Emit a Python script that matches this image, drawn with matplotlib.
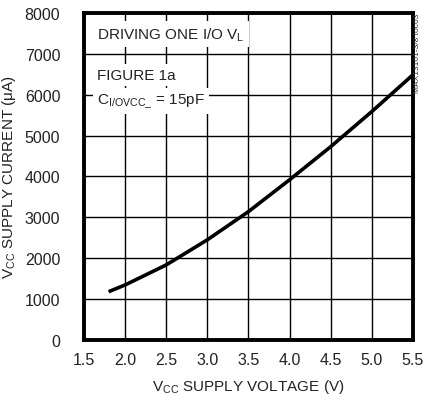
import matplotlib
matplotlib.use("Agg")
import matplotlib.pyplot as plt

# supply current vs supply voltage
vcc = [1.8, 2.0, 2.5, 3.0, 3.5, 4.0, 4.5, 5.0, 5.5]
icc = [1180, 1345, 1835, 2450, 3140, 3920, 4730, 5590, 6490]

x_ticks = [1.5, 2.0, 2.5, 3.0, 3.5, 4.0, 4.5, 5.0, 5.5]
y_ticks = [0, 1000, 2000, 3000, 4000, 5000, 6000, 7000, 8000]

fam = "Liberation Sans"
plt.rcParams["font.family"] = [fam, "DejaVu Sans"]
plt.rcParams["mathtext.fontset"] = "custom"
plt.rcParams["mathtext.rm"] = fam
plt.rcParams["mathtext.it"] = fam

fig = plt.figure(figsize=(4.24, 4.02), dpi=100)
ax = fig.add_axes([0.198, 0.152, 0.776, 0.813])

ax.plot(vcc, icc, color="black", linewidth=2.6, solid_capstyle="butt", zorder=4)

ax.set_xlim(1.5, 5.5)
ax.set_ylim(0, 8000)
ax.set_xticks(x_ticks)
ax.set_xticklabels([f"{v:.1f}" for v in x_ticks])
ax.set_yticks(y_ticks)
ax.grid(True, color="black", linewidth=1.0)
ax.set_axisbelow(True)
ax.tick_params(length=0, labelsize=11.5, colors="#222222")
ax.tick_params(axis="y", pad=17)
ax.tick_params(axis="x", pad=9)
for s in ax.spines.values():
    s.set_linewidth(2.8)

ax.set_xlabel(r"V$_\mathregular{CC}$ SUPPLY VOLTAGE (V)", fontsize=11, color="#222222", labelpad=7)
ax.set_ylabel(r"V$_\mathregular{CC}$ SUPPLY CURRENT ($\mu$A)", fontsize=11, color="#222222", labelpad=5)

box = dict(facecolor="white", edgecolor="none", pad=3)
ax.text(0.04, 0.935, r"DRIVING ONE I/O V$_\mathregular{L}$", transform=ax.transAxes,
        fontsize=11, va="center", ha="left", color="#222222", bbox=box, zorder=5)
ax.text(0.04, 0.81, "FIGURE 1a", transform=ax.transAxes,
        fontsize=11, va="center", ha="left", color="#222222", bbox=box, zorder=5)
ax.text(0.04, 0.73, r"C$_\mathregular{I/OVCC\_}$ = 15pF", transform=ax.transAxes,
        fontsize=11, va="center", ha="left", color="#222222", bbox=box, zorder=5)

fig.text(0.985, 0.965, "MAX13101-3/8 toc03", rotation=90, fontsize=6,
         ha="center", va="top", color="#333333")

fig.savefig("out.png", dpi=100)
